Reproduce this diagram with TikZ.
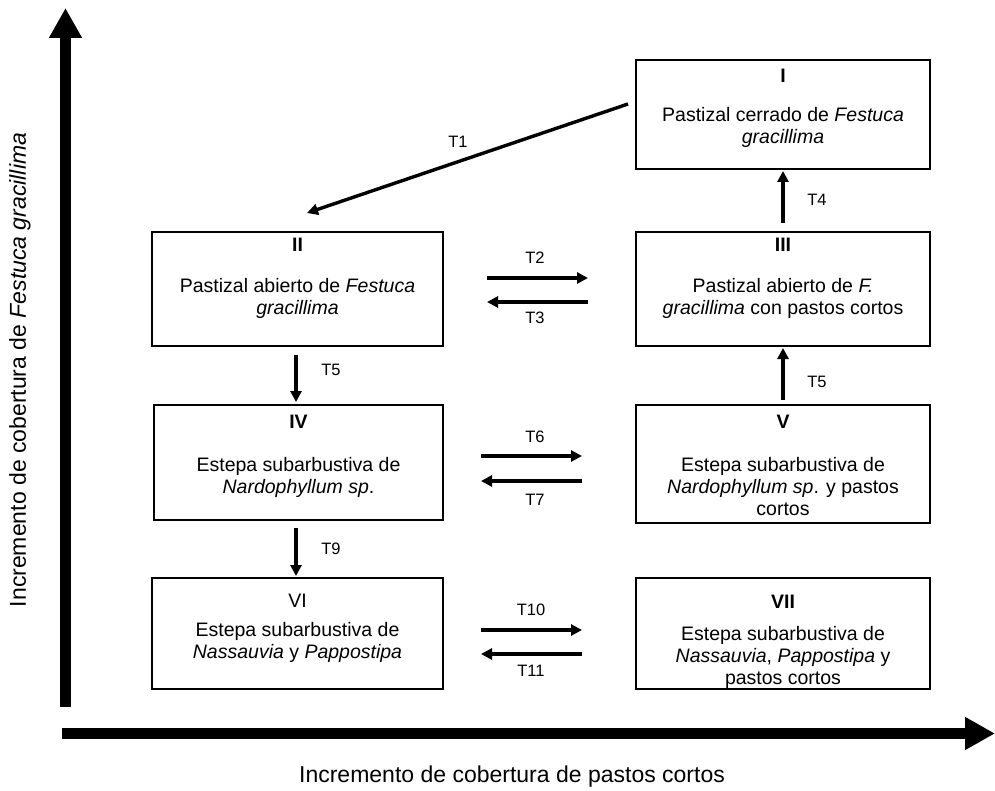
\documentclass[tikz,border=0pt]{standalone}
\usepackage{fontspec}
\setmainfont{Liberation Sans}
\usetikzlibrary{arrows.meta}
\begin{document}
\begin{tikzpicture}[x=1pt,y=-1pt,
  statebox/.style={draw=black,line width=1.3pt,inner sep=0pt},
  txt/.style={align=center,inner sep=0pt,font=\fontsize{19.5}{22}\selectfont},
  lbl/.style={inner sep=0pt,font=\fontsize{16.5}{20}\selectfont},
  conn/.style={line width=3.4pt,-{Triangle[length=11pt,width=11pt]}},
  axis/.style={line width=11pt,-{Triangle[length=30pt,width=31pt]}},
  axlbl/.style={inner sep=0pt,font=\fontsize{23}{27}\selectfont}]
\useasboundingbox (0,0) rectangle (995,791);
% boxes
\node[statebox,minimum width=294pt,minimum height=109pt] (b1) at (783,114.5) {};
\node[statebox,minimum width=291pt,minimum height=114pt] (b2) at (297.5,289) {};
\node[statebox,minimum width=294pt,minimum height=114pt] (b3) at (783,289) {};
\node[statebox,minimum width=289pt,minimum height=115pt] (b4) at (298.5,462.5) {};
\node[statebox,minimum width=294pt,minimum height=118pt] (b5) at (783,464) {};
\node[statebox,minimum width=291pt,minimum height=111pt] (b6) at (297.5,633.5) {};
\node[statebox,minimum width=294pt,minimum height=111pt] (b7) at (783,633.5) {};
% numerals
\node[txt] (n1) at (783,76) {\textbf{I}};
\node[txt] (n2) at (297.5,245) {\textbf{II}};
\node[txt] (n3) at (783,245) {\textbf{III}};
\node[txt] (n4) at (298.5,422) {\textbf{IV}};
\node[txt] (n5) at (783,422) {\textbf{V}};
\node[txt] (n6) at (297.5,601) {VI};
\node[txt] (n7) at (783,602) {\textbf{VII}};
% texts
\node[txt] (t1) at (783,127) {Pastizal cerrado de \textit{Festuca}\\\textit{gracillima}};
\node[txt] (t2) at (297.5,298) {Pastizal abierto de \textit{Festuca}\\\textit{gracillima}};
\node[txt] (t3) at (783,298) {Pastizal abierto de \textit{F.}\\\textit{gracillima} con pastos cortos};
\node[txt] (t4) at (298.5,477) {Estepa subarbustiva de\\\textit{Nardophyllum sp}.};
\node[txt] (t5) at (783,487) {Estepa subarbustiva de\\\textit{Nardophyllum sp}. y pastos\\cortos};
\node[txt] (t6) at (297.5,642) {Estepa subarbustiva de\\\textit{Nassauvia} y \textit{Pappostipa}};
\node[txt] (t7) at (783,657) {Estepa subarbustiva de\\\textit{Nassauvia}, \textit{Pappostipa} y\\pastos cortos};
% connector end points
\coordinate (T1s) at (628,104);
\coordinate (T1e) at (307,213);
\coordinate (T2s) at (487,278);
\coordinate (T2e) at (588,278);
\coordinate (T3s) at (588,302);
\coordinate (T3e) at (487,302);
\coordinate (T4s) at (783,223);
\coordinate (T4e) at (783,171);
\coordinate (T5as) at (296,355);
\coordinate (T5ae) at (296,402);
\coordinate (T5bs) at (783,400);
\coordinate (T5be) at (783,348);
\coordinate (T6s) at (481,456);
\coordinate (T6e) at (582,456);
\coordinate (T7s) at (582,481);
\coordinate (T7e) at (481,481);
\coordinate (T9s) at (296,528);
\coordinate (T9e) at (296,576);
\coordinate (T10s) at (481,630);
\coordinate (T10e) at (582,630);
\coordinate (T11s) at (582,654);
\coordinate (T11e) at (481,654);
\draw[conn] (T1s) -- (T1e);
\draw[conn] (T2s) -- (T2e);
\draw[conn] (T3s) -- (T3e);
\draw[conn] (T4s) -- (T4e);
\draw[conn] (T5as) -- (T5ae);
\draw[conn] (T5bs) -- (T5be);
\draw[conn] (T6s) -- (T6e);
\draw[conn] (T7s) -- (T7e);
\draw[conn] (T9s) -- (T9e);
\draw[conn] (T10s) -- (T10e);
\draw[conn] (T11s) -- (T11e);
% labels
\node[lbl] (l1) at (458,142) {T1};
\node[lbl] (l2) at (535,258) {T2};
\node[lbl] (l3) at (535,318) {T3};
\node[lbl] (l4) at (817,200) {T4};
\node[lbl] (l5a) at (331,370) {T5};
\node[lbl] (l5b) at (817,382) {T5};
\node[lbl] (l6) at (535,437) {T6};
\node[lbl] (l7) at (535,500) {T7};
\node[lbl] (l9) at (331,549) {T9};
\node[lbl] (l10) at (531,610) {T10};
\node[lbl] (l11) at (531,671) {T11};
% axes
\coordinate (origin) at (65.5,707);
\coordinate (ytip) at (65.5,8);
\coordinate (xorig) at (62,733.5);
\coordinate (xtip) at (995,733.5);
\draw[axis] (origin) -- (ytip);
\draw[axis] (xorig) -- (xtip);
\node[axlbl,rotate=90] (ylab) at (20,370) {Incremento de cobertura de \textit{Festuca gracillima}};
\node[axlbl] (xlab) at (512,777) {Incremento de cobertura de pastos cortos};
\end{tikzpicture}
\end{document}
